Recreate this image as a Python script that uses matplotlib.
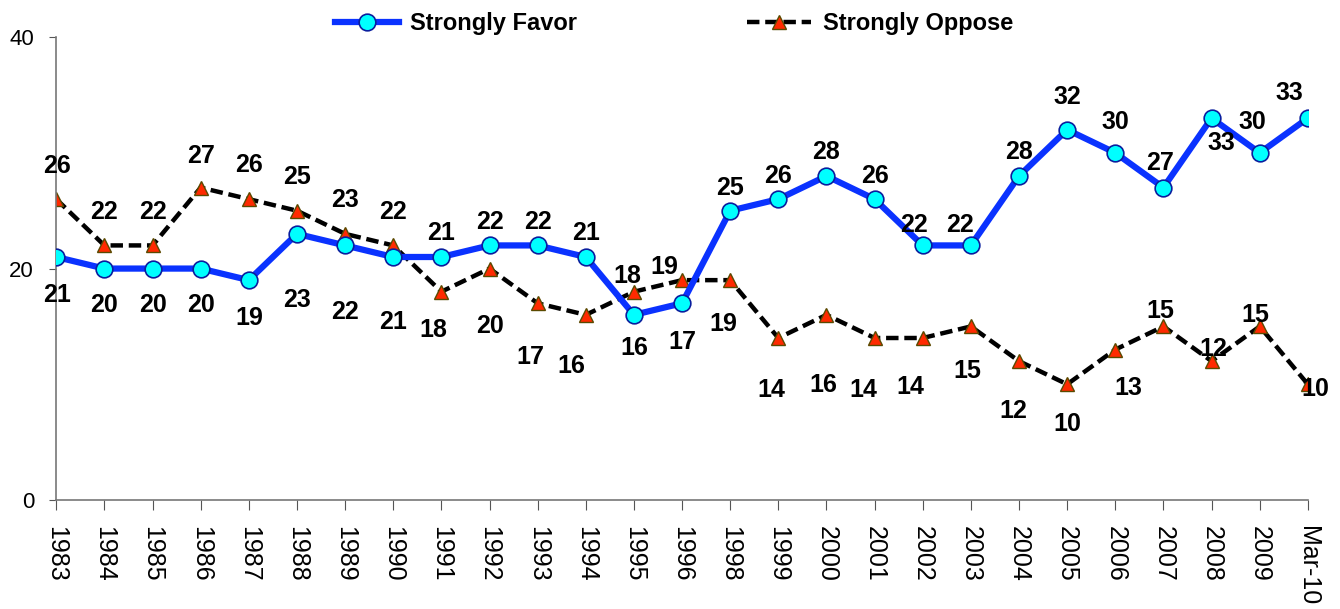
import numpy as np
import matplotlib.pyplot as plt

plt.rcParams['font.family'] = ['Liberation Sans', 'DejaVu Sans']

years = ['1983', '1984', '1985', '1986', '1987', '1988', '1989', '1990', '1991',
         '1992', '1993', '1994', '1995', '1996', '1998', '1999', '2000', '2001',
         '2002', '2003', '2004', '2005', '2006', '2007', '2008', '2009', 'Mar-10']
favor = [21, 20, 20, 20, 19, 23, 22, 21, 21, 22, 22, 21, 16, 17, 25, 26, 28, 26,
         22, 22, 28, 32, 30, 27, 33, 30, 33]
oppose = [26, 22, 22, 27, 26, 25, 23, 22, 18, 20, 17, 16, 18, 19, 19, 14, 16, 14,
          14, 15, 12, 10, 13, 15, 12, 15, 10]

# label offsets from the point, in pixels (dx, dy), as placed in the original
favor_off = [(1, -38), (0, -36), (0, -36), (0, -36), (0, -38), (0, -66), (0, -67),
             (0, -65), (0, 24), (0, 23), (0, 23), (0, 24), (0, -33), (0, -39),
             (0, 23), (0, 23), (0, 24), (0, 23), (-9, 20), (-11, 20), (0, 24),
             (0, 33), (0, 31), (-3, 25), (10, -25), (-7, 31), (-18, 25)]
oppose_off = [(1, 33), (0, 33), (0, 33), (0, 32), (0, 34), (0, 34), (0, 34),
              (0, 33), (-8, -38), (0, -57), (-7, -54), (-14, -51), (-7, 16),
              (-18, 13), (-7, -44), (-7, -52), (-3, -70), (-11, -52), (-12, -49),
              (-4, -45), (-6, -50), (0, -40), (13, -38), (-3, 15), (2, 12),
              (-4, 11), (7, -5)]

x = np.arange(len(years))

fig = plt.figure(figsize=(13.4, 6.09), dpi=100)
ax = fig.add_axes([0.042, 0.179, 0.934, 0.76])

ax.plot(x, favor, color='#0A32FF', lw=4.5, marker='o', ms=12,
        mfc='#00FFFF', mec='#0A1E9E', mew=1.2, label='Strongly Favor', zorder=3)
ax.plot(x, oppose, color='black', lw=3.2, ls=(0, (2.8, 1.3)), marker='^', ms=10.5,
        mfc='#FF2A00', mec='#5A4A00', mew=1.0, label='Strongly Oppose', zorder=2)

px = 72 / 100  # pixels -> points
for vals, off in [(favor, favor_off), (oppose, oppose_off)]:
    for xi, v, (dx, dy) in zip(x, vals, off):
        ax.annotate(str(v), (xi, v), xytext=(dx * px, dy * px),
                    textcoords='offset points', ha='center', va='center',
                    fontsize=18, fontweight='bold', zorder=5)

ax.set_xlim(0, len(years) - 1)
ax.set_ylim(0, 40)
ax.set_yticks([0, 20, 40])
ax.set_xticks(x)
ax.set_xticklabels(years, rotation=-90, fontsize=18)
ax.tick_params(axis='y', labelsize=16, length=5, color='#555555', pad=11)
ax.tick_params(axis='x', length=7, color='#555555', pad=12)
for s in ['top', 'right']:
    ax.spines[s].set_visible(False)
for s in ['left', 'bottom']:
    ax.spines[s].set_color('#777777')
    ax.spines[s].set_linewidth(1.2)

leg = fig.legend(loc='upper center', bbox_to_anchor=(0.503, 1.015), ncol=2,
                 frameon=False, columnspacing=7.2, handlelength=2.7,
                 handletextpad=0.5, prop={'size': 17, 'weight': 'bold'})

fig.savefig('out.png', dpi=100)
